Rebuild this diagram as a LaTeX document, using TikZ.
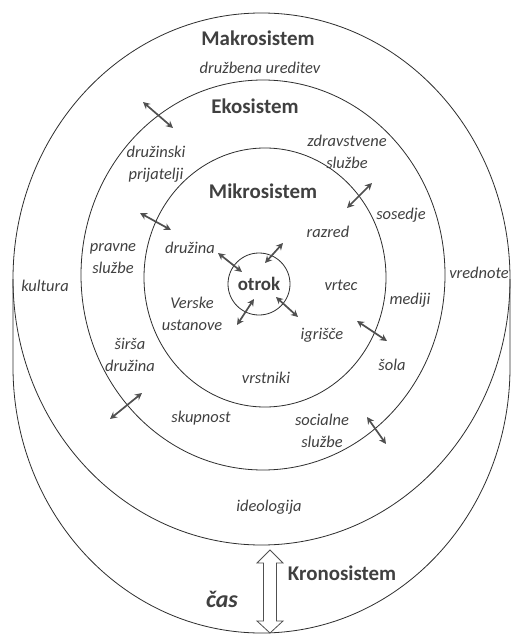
\documentclass[tikz,border=0pt]{standalone}
\usepackage{fontspec}
\setmainfont{Carlito}
\usetikzlibrary{arrows.meta}
\definecolor{txt}{HTML}{404040}
\definecolor{ring}{HTML}{2E2E2E}
\definecolor{arr}{HTML}{505050}
\tikzset{
  ringline/.style={draw=ring, line width=0.8bp},
  title/.style={text=txt, font=\fontsize{21}{24}\selectfont\bfseries, inner sep=0pt},
  lbl/.style={text=txt, font=\fontsize{16.5}{21.5}\selectfont\itshape, align=center, inner sep=0pt},
  link/.style={draw=arr, line width=1.7bp, {Stealth[length=7bp,width=7bp]}-{Stealth[length=7bp,width=7bp]}},
  timearrow/.style={draw=arr, line width=0.8bp, fill=white}
}
\begin{document}
\begin{tikzpicture}[x=1bp,y=1bp]
\useasboundingbox[fill=white] (0,0) rectangle (512,-635);
% rings
\draw[ringline] (13,-279) -- (13,-367) arc[start angle=180, end angle=360, x radius=248.5, y radius=266] -- (510,-279);
\draw[ringline] (261.5,-279) ellipse [x radius=248.5, y radius=266];
\draw[ringline] (263,-275) ellipse [x radius=182, y radius=195];
\draw[ringline] (265,-277.5) ellipse [x radius=121, y radius=129.5];
\node[circle, ringline, minimum size=62bp, inner sep=0pt, text=txt, font=\fontsize{19}{22}\selectfont\bfseries] (otrok) at (259,-284) {otrok};

% titles
\node[title] (makro) at (258,-38) {Makrosistem};
\node[title] (eko) at (255,-106) {Ekosistem};
\node[title] (mikro) at (263,-191) {Mikrosistem};
\node[title] (krono) at (342,-573) {Kronosistem};
\node[text=txt, font=\fontsize{24}{28}\selectfont\bfseries\itshape, inner sep=0pt] (cas) at (222,-599) {čas};

% labels
\node[lbl] (dru) at (260,-68) {družbena ureditev};
\node[lbl] (prij) at (156,-164) {družinski\\prijatelji};
\node[lbl] (zdr) at (347,-152) {zdravstvene\\službe};
\node[lbl] (sos) at (401,-215) {sosedje};
\node[lbl] (raz) at (328,-232) {razred};
\node[lbl] (prav) at (113,-258.5) {pravne\\službe};
\node[lbl] (druz) at (190,-248) {družina};
\node[lbl] (kult) at (45,-286) {kultura};
\node[lbl] (vrt) at (341,-285) {vrtec};
\node[lbl] (vred) at (479,-273) {vrednote};
\node[lbl] (med) at (410,-300) {mediji};
\node[lbl] (ver) at (192,-314) {Verske\\ustanove};
\node[lbl] (igr) at (322,-335) {igrišče};
\node[lbl] (sir) at (130,-355) {širša\\družina};
\node[lbl] (sol) at (392,-365) {šola};
\node[lbl] (vrs) at (266,-378) {vrstniki};
\node[lbl] (sku) at (201,-418) {skupnost};
\node[lbl] (soc) at (322,-431) {socialne\\službe};
\node[lbl] (ideo) at (269,-507) {ideologija};

% interaction arrows
\coordinate (a1s) at (143,-102); \coordinate (a1e) at (173,-128);
\coordinate (a2s) at (372,-183); \coordinate (a2e) at (347,-208);
\coordinate (a3s) at (140,-213); \coordinate (a3e) at (171,-230);
\coordinate (a4s) at (218,-253); \coordinate (a4e) at (242,-272);
\coordinate (a5s) at (283,-243); \coordinate (a5e) at (265,-263);
\coordinate (a6s) at (254,-299); \coordinate (a6e) at (237,-325);
\coordinate (a7s) at (276,-297); \coordinate (a7e) at (298,-317);
\coordinate (a8s) at (357,-321); \coordinate (a8e) at (387,-341);
\coordinate (a9s) at (142,-393); \coordinate (a9e) at (110,-419);
\coordinate (a10s) at (367,-417); \coordinate (a10e) at (386,-444);
\foreach \i in {1,...,10} { \draw[link] (a\i s) -- (a\i e); }

% time arrow
\draw[timearrow] (270,-550) -- (283,-563) -- (276.5,-563) -- (276.5,-621) -- (283,-621) -- (270,-633)
  -- (257,-621) -- (263.5,-621) -- (263.5,-563) -- (257,-563) -- cycle;
\end{tikzpicture}
\end{document}
